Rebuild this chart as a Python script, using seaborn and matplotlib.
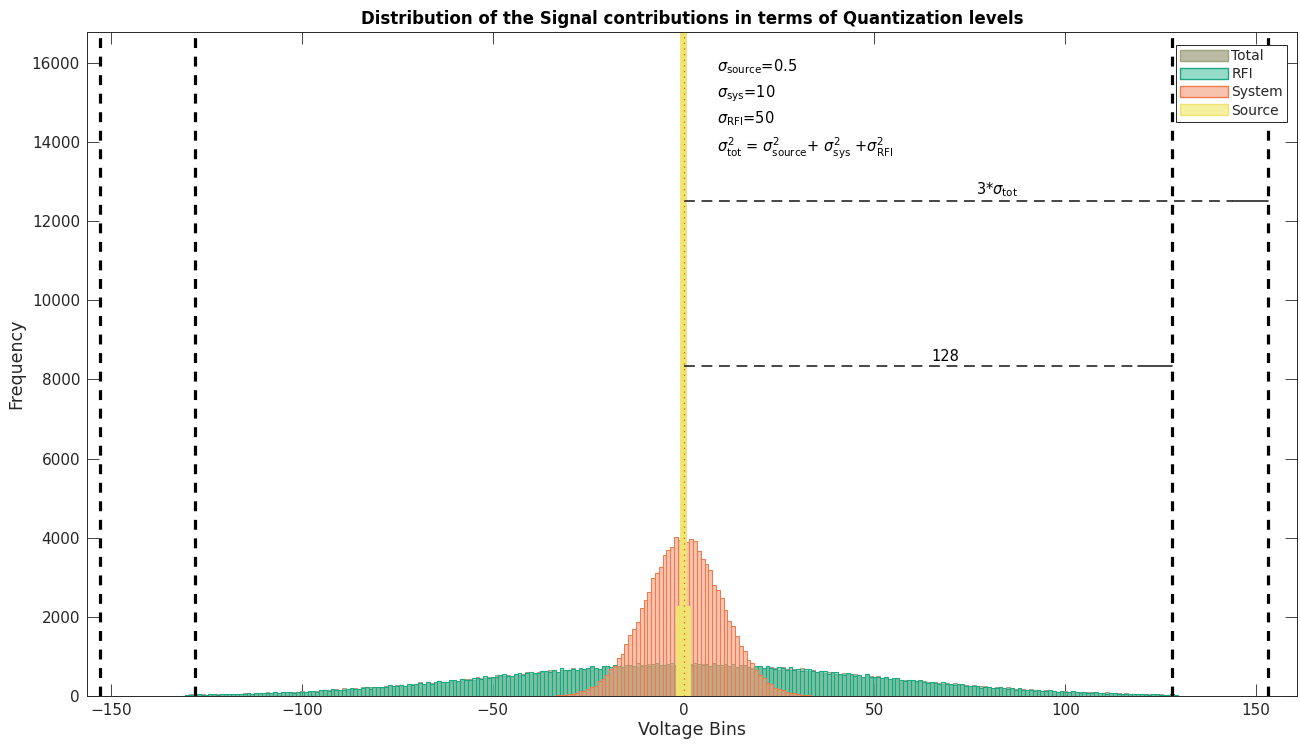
import numpy as np
import matplotlib
matplotlib.use("Agg")
import matplotlib.pyplot as plt
import seaborn as sns
from matplotlib.patches import Patch
from matplotlib.colors import to_rgba

# ---------------- data ----------------
rfi_bins = list(range(-130, 130))
rfi_counts = [
    28, 22, 34, 40, 31, 30, 38, 46, 31, 46,
    51, 46, 42, 61, 55, 52, 64, 51, 80, 66,
    71, 80, 71, 90, 75, 92, 104, 91, 85, 112,
    111, 107, 132, 121, 112, 142, 139, 131, 166, 148,
    162, 149, 180, 196, 177, 177, 196, 218, 185, 222,
    235, 227, 222, 265, 255, 249, 277, 253, 314, 287,
    300, 321, 303, 344, 315, 351, 375, 352, 342, 396,
    395, 387, 436, 416, 400, 456, 451, 437, 501, 466,
    492, 468, 523, 548, 515, 512, 545, 578, 524, 583,
    603, 585, 575, 641, 622, 609, 650, 607, 698, 652,
    668, 694, 663, 717, 670, 717, 745, 707, 686, 754,
    746, 728, 788, 752, 724, 790, 775, 748, 822, 770,
    792, 753, 812, 834, 783, 771, 800, 830, 754, 814,
    825, 794, 771, 835, 803, 776, 811, 753, 840, 779,
    784, 801, 755, 801, 738, 776, 793, 741, 709, 766,
    746, 716, 764, 717, 678, 730, 704, 667, 726, 666,
    676, 629, 672, 681, 625, 603, 619, 636, 560, 602,
    603, 566, 538, 583, 548, 517, 538, 482, 545, 488,
    485, 490, 449, 477, 424, 445, 452, 408, 378, 415,
    395, 368, 398, 359, 328, 361, 339, 310, 345, 302,
    305, 271, 297, 301, 260, 245, 254, 262, 212, 238,
    235, 212, 194, 220, 198, 179, 190, 157, 193, 160,
    158, 162, 137, 154, 124, 137, 141, 116, 101, 121,
    111, 98, 114, 95, 80, 96, 87, 73, 92, 71,
    74, 58, 71, 74, 56, 50, 55, 60, 38, 50,
    51, 42, 35, 47, 38, 31, 36, 24, 40, 26,
]

total_bins = list(range(-130, 130))
total_counts = [
    22, 42, 31, 35, 41, 34, 47, 36, 48, 55,
    46, 40, 60, 58, 54, 72, 63, 56, 78, 75,
    68, 94, 79, 90, 79, 102, 113, 98, 97, 111,
    126, 101, 129, 138, 131, 126, 159, 150, 145, 167,
    147, 194, 172, 182, 199, 184, 215, 192, 221, 239,
    220, 212, 255, 255, 248, 288, 271, 259, 304, 300,
    289, 341, 314, 335, 316, 362, 384, 356, 356, 384,
    413, 368, 420, 437, 424, 416, 474, 460, 450, 487,
    453, 533, 495, 511, 537, 512, 562, 522, 566, 595,
    563, 548, 612, 608, 594, 653, 624, 601, 665, 655,
    635, 706, 663, 688, 656, 714, 740, 695, 688, 721,
    754, 687, 749, 765, 739, 722, 789, 763, 742, 781,
    728, 820, 764, 774, 795, 756, 807, 750, 792, 815,
    768, 740, 803, 789, 762, 817, 773, 738, 797, 776,
    742, 808, 750, 765, 720, 771, 785, 729, 711, 733,
    754, 675, 725, 730, 695, 667, 721, 685, 655, 680,
    622, 696, 634, 634, 644, 598, 634, 574, 602, 613,
    563, 530, 576, 555, 525, 562, 519, 482, 522, 497,
    464, 509, 456, 462, 421, 454, 459, 411, 392, 402,
    413, 351, 383, 381, 352, 328, 362, 334, 308, 324,
    281, 328, 284, 281, 285, 252, 274, 233, 249, 253,
    220, 199, 227, 212, 192, 215, 188, 164, 188, 173,
    153, 179, 149, 152, 129, 147, 150, 123, 113, 120,
    126, 93, 111, 111, 96, 84, 102, 89, 77, 85,
    64, 88, 67, 67, 70, 55, 68, 48, 57, 60,
    45, 37, 50, 45, 37, 48, 36, 27, 38, 33,
]

sys_bins = list(range(-35, 36))
sys_counts = [
    6, 12, 22, 16, 36, 50, 58, 70, 117, 138,
    166, 233, 259, 389, 434, 540, 674, 768, 971, 1072,
    1309, 1543, 1693, 1876, 2216, 2435, 2630, 2972, 3117, 3258,
    3574, 3695, 3758, 4011, 3945, 4009, 3894, 3961, 3907, 3659,
    3468, 3339, 3184, 2811, 2687, 2464, 2170, 1898, 1768, 1505,
    1270, 1129, 897, 841, 648, 540, 455, 340, 300, 208,
    180, 150, 99, 66, 65, 46, 30, 31, 17, 8, 12,
]

src_bins = [-1, 0, 1]
src_counts = [2217, 16770, 2217]

series_names = ["Total", "RFI", "System", "Source"]
face_colors = ["#8f8f67", "#4dc5a3", "#f29b7a", "#f0e65f"]
edge_colors = ["#a3a384", "#1aa882", "#f07a4a", "#f0e470"]
edge_widths = [0.75, 0.75, 0.75, 2.8]

quant_levels = 128
three_sigma_tot = 153
ann_lines = [r"$\sigma_{\mathrm{source}}$=0.5",
             r"$\sigma_{\mathrm{sys}}$=10",
             r"$\sigma_{\mathrm{RFI}}$=50",
             r"$\sigma^2_{\mathrm{tot}}$ = $\sigma^2_{\mathrm{source}}$+ $\sigma^2_{\mathrm{sys}}$ +$\sigma^2_{\mathrm{RFI}}$"]

# ---------------- style ----------------
sns.set_theme(style="ticks")
plt.rcParams["font.family"] = ["DejaVu Sans"]
plt.rcParams["mathtext.fontset"] = "dejavusans"
dark = "#262626"

fig = plt.figure(figsize=(13, 7.47), dpi=100)
ax = fig.add_axes([0.0669, 0.0683, 0.9305, 0.8885])

datasets = [(total_bins, total_counts), (rfi_bins, rfi_counts),
            (sys_bins, sys_counts), (src_bins, src_counts)]
for (b, c), fc, ec, lw, name in zip(datasets, face_colors, edge_colors,
                                    edge_widths, series_names):
    sns.histplot(x=b, weights=c, discrete=True, color=fc, alpha=0.6,
                 edgecolor=ec, linewidth=lw, ax=ax)

# vertical dashed limits
for xv in [-three_sigma_tot, -quant_levels, quant_levels, three_sigma_tot]:
    ax.axvline(xv, color="black", lw=2.3, dashes=(3.1, 2.7), zorder=5)

# dotted centre line
ax.axvline(0, color="#e8503a", lw=0.9, dashes=(1, 3.5), zorder=6)

# horizontal annotation lines
for y, xe, lab, lx in [(12500, three_sigma_tot, r"3*$\sigma_{\mathrm{tot}}$", 82),
                       (8330, quant_levels, "128", 68.5)]:
    ax.plot([0, xe - 9], [y, y], color=dark, lw=1.2, dashes=(6.5, 4.0), zorder=5)
    ax.plot([xe - 9, xe], [y, y], color=dark, lw=1.2, zorder=5)
    ax.text(lx, y + 60, lab, ha="center", va="bottom", fontsize=10.5, color="black")

# sigma text block
for lab, yv in zip(ann_lines, [15890, 15230, 14600, 13830]):
    ax.text(8.8, yv, lab, ha="left", va="center", fontsize=10.5, color="black")

ax.set_xlim(-156.3, 160.6)
ax.set_ylim(0, 16770)
ax.set_xticks([-150, -100, -50, 0, 50, 100, 150])
ax.set_yticks(range(0, 16001, 2000))
ax.tick_params(direction="in", top=True, right=True, length=8.7, width=0.6,
               labelsize=11, colors=dark, pad=5)
for s in ax.spines.values():
    s.set_color(dark)
    s.set_linewidth(0.7)

ax.set_xlabel("Voltage Bins", fontsize=12.5, color=dark, labelpad=2)
ax.set_ylabel("Frequency", fontsize=12.5, color=dark, labelpad=5)
ax.set_title("Distribution of the Signal contributions in terms of Quantization levels",
             fontsize=12, fontweight="bold", color="black", pad=6)

handles = [Patch(facecolor=to_rgba(fc, 0.6), edgecolor=ec, lw=1.0, label=n)
           for fc, ec, n in zip(face_colors, edge_colors, series_names)]
leg = ax.legend(handles=handles, loc="upper right", bbox_to_anchor=(0.992, 0.981),
                borderaxespad=0, fancybox=False, framealpha=1, edgecolor=dark,
                fontsize=10, handlelength=3.4, handleheight=0.85, labelspacing=0.3,
                handletextpad=0.25, borderpad=0.3)
leg.get_frame().set_linewidth(0.7)
leg.set_zorder(10)

fig.savefig("out.png", dpi=100)
